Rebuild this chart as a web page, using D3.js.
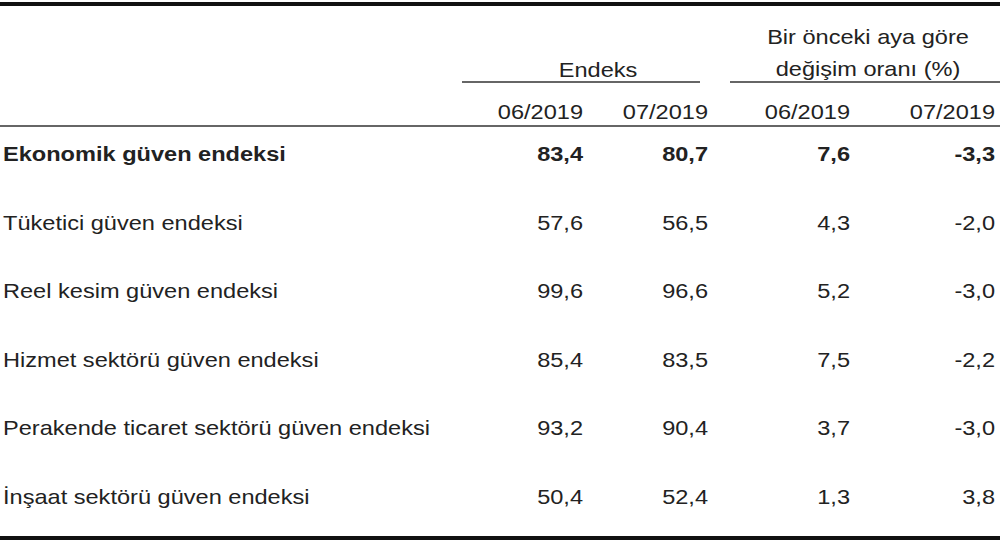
<!DOCTYPE html><html><head><meta charset="utf-8"><script src="https://cdn.jsdelivr.net/npm/d3@7"></script>
<style>body{margin:0;background:#fff}text{font-family:"Liberation Sans",Arial,sans-serif;fill:#222}</style></head><body><svg id="c" width="1000" height="543"></svg><script>
const categories=["Ekonomik güven endeksi","Tüketici güven endeksi","Reel kesim güven endeksi","Hizmet sektörü güven endeksi","Perakende ticaret sektörü güven endeksi","İnşaat sektörü güven endeksi"];
const endeks06=["83,4","57,6","99,6","85,4","93,2","50,4"];
const endeks07=["80,7","56,5","96,6","83,5","90,4","52,4"];
const degisim06=["7,6","4,3","5,2","7,5","3,7","1,3"];
const degisim07=["-3,3","-2,0","-3,0","-2,2","-3,0","3,8"];
const colLabels=["06/2019","07/2019","06/2019","07/2019"];
const svg=d3.select("#c");
const y=d3.scalePoint().domain(categories).range([161,504]);
const colX=[583,708,850,995];
const cols=[endeks06,endeks07,degisim06,degisim07];
const fs=20.5, sx=1.15;
function txt(x,yy,s,anchor,bold){
 svg.append("text").attr("transform",`translate(${x},${yy}) scale(${sx},1)`).attr("text-anchor",anchor||"start")
  .attr("font-size",fs).attr("font-weight",bold?"bold":"normal").text(s);
}
svg.append("rect").attr("x",0).attr("y",2).attr("width",1000).attr("height",4).attr("fill","#111");
svg.append("rect").attr("x",0).attr("y",536).attr("width",1000).attr("height",4).attr("fill","#111");
svg.append("line").attr("x1",0).attr("x2",1000).attr("y1",126).attr("y2",126).attr("stroke","#333").attr("stroke-width",1.3);
svg.append("line").attr("x1",462).attr("x2",700).attr("y1",82).attr("y2",82).attr("stroke","#333").attr("stroke-width",1.3);
svg.append("line").attr("x1",730).attr("x2",1000).attr("y1",82).attr("y2",82).attr("stroke","#333").attr("stroke-width",1.3);
txt(598,77,"Endeks","middle");
txt(868,44,"Bir önceki aya göre","middle");
txt(868,76,"değişim oranı (%)","middle");
colLabels.forEach((l,i)=>txt(colX[i],119,l,"end"));
categories.forEach((c,r)=>{
 txt(3,y(c),c,"start",r===0);
 cols.forEach((arr,i)=>txt(colX[i],y(c),arr[r],"end",r===0));
});
</script></body></html>
